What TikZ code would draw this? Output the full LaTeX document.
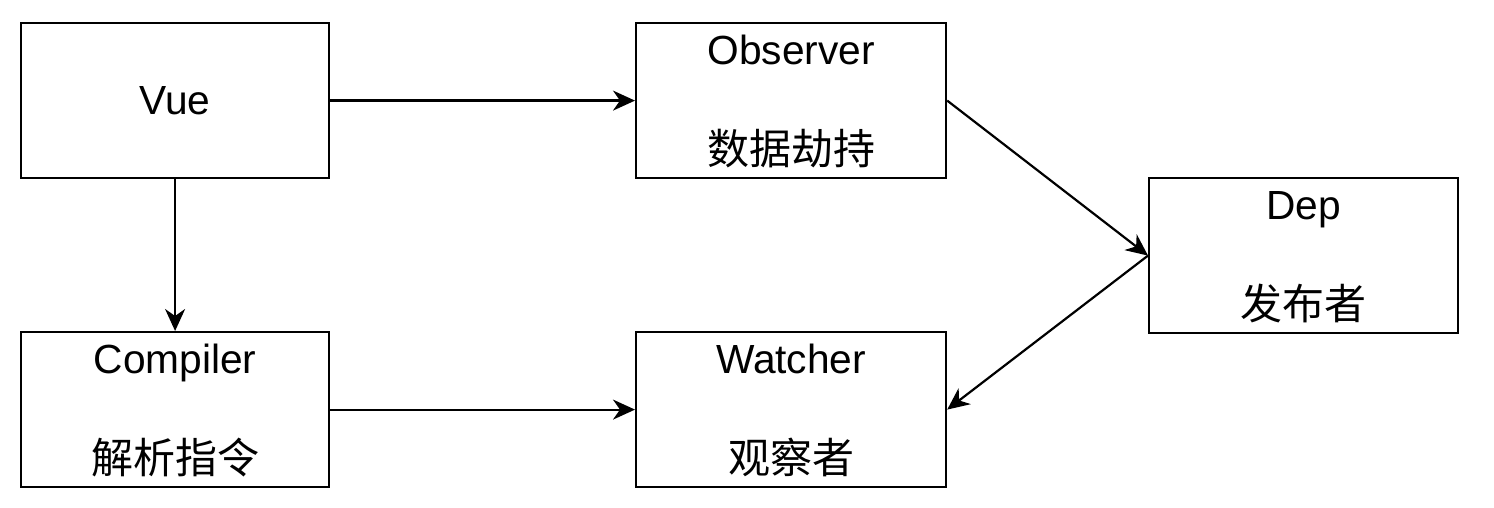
\documentclass[tikz,border=0pt]{standalone}
\usepackage{fontspec}
\setmainfont{Liberation Sans}
\newfontfamily\cjk{Noto Sans CJK SC}
\usetikzlibrary{arrows.meta}
\begin{document}
\begin{tikzpicture}[x=1pt,y=-1pt,
 box/.style={draw, line width=2.2pt, minimum height=155pt, inner sep=0pt, anchor=north west},
 lbl/.style={font=\fontsize{40.7}{44}\selectfont, inner sep=0pt, anchor=base},
 cj/.style={font=\cjk\fontsize{42}{46}\selectfont, inner sep=0pt},
 arr/.style={line width=2.2pt, -{Stealth[length=22pt,width=20pt,inset=7pt]}}]
\useasboundingbox (0,0) rectangle (1494,508);
\node[box, minimum width=308pt] (vue) at (20,22) {};
\node[box, minimum width=310pt] (obs) at (635,22) {};
\node[box, minimum width=309pt] (dep) at (1148,177) {};
\node[box, minimum width=308pt] (comp) at (20,331) {};
\node[box, minimum width=310pt] (wat) at (635,331) {};
\node[lbl] (tvue) at ([yshift=-14pt]vue.center) {Vue};
\node[lbl] (tobs) at ([yshift=36pt]obs.center) {Observer};
\node[cj] (cobs) at ([yshift=-48pt]obs.center) {数据劫持};
\node[lbl] (tdep) at ([yshift=36pt]dep.center) {Dep};
\node[cj] (cdep) at ([yshift=-48pt]dep.center) {发布者};
\node[lbl] (tcomp) at ([yshift=36pt]comp.center) {Compiler};
\node[cj] (ccomp) at ([yshift=-48pt]comp.center) {解析指令};
\node[lbl] (twat) at ([yshift=36pt]wat.center) {Watcher};
\node[cj] (cwat) at ([yshift=-48pt]wat.center) {观察者};
\draw[arr] (vue.east) -- (obs.west);
\draw[arr] (vue.south) -- (comp.north);
\draw[arr] (comp.east) -- (wat.west);
\draw[arr] (obs.east) -- (dep.west);
\draw[arr] (dep.west) -- (wat.east);
\end{tikzpicture}
\end{document}
